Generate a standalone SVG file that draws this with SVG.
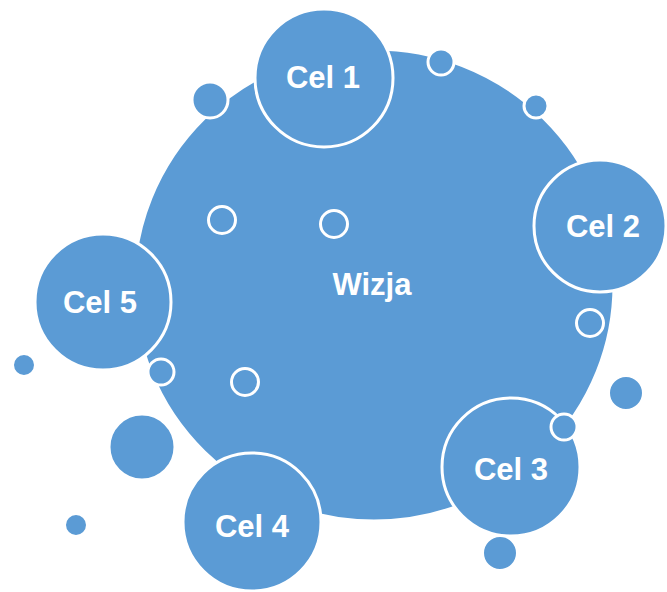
<svg xmlns="http://www.w3.org/2000/svg" width="667" height="592" viewBox="0 0 667 592">
<style>
.b{fill:#5B9BD5;stroke:#FFFFFF;stroke-width:3}
.s{fill:#5B9BD5;stroke:#FFFFFF;stroke-width:3}
.t{font-family:"Liberation Sans",Arial,sans-serif;font-weight:bold;font-size:31px;fill:#FFFFFF;text-anchor:middle}
</style>
<rect width="667" height="592" fill="#FFFFFF"/>
<g id="wizja">
<ellipse class="b" cx="374" cy="285" rx="240" ry="236"/>
<text class="t" x="372" y="295">Wizja</text>
</g>
<g id="bubbles">
<circle class="s" cx="222" cy="220" r="13.5"/>
<circle class="s" cx="334" cy="224" r="13.5"/>
<circle class="s" cx="245" cy="382" r="13.5"/>
<circle class="s" cx="590" cy="323" r="13.5"/>
<circle class="s" cx="441" cy="62" r="13"/>
<circle class="s" cx="536" cy="106" r="12"/>
<circle class="s" cx="210" cy="100" r="18"/>
<circle class="s" cx="24" cy="365" r="11.5"/>
<circle class="s" cx="142" cy="447" r="33"/>
<circle class="s" cx="76" cy="525" r="11.5"/>
<circle class="s" cx="626" cy="393" r="17.5"/>
</g>
<g id="cel1">
<circle class="b" cx="324" cy="78" r="69"/>
<text class="t" x="323" y="88">Cel 1</text>
</g>
<g id="cel2">
<circle class="b" cx="600" cy="226" r="66"/>
<text class="t" x="603" y="237">Cel 2</text>
</g>
<g id="cel3">
<circle class="b" cx="511" cy="467" r="69"/>
<text class="t" x="511" y="480">Cel 3</text>
</g>
<g id="cel4">
<circle class="b" cx="252" cy="522" r="69"/>
<text class="t" x="252" y="537">Cel 4</text>
</g>
<g id="cel5">
<circle class="b" cx="103" cy="302" r="68"/>
<text class="t" x="100" y="313">Cel 5</text>
</g>
<g id="bubbles-top">
<circle class="s" cx="161" cy="372" r="13"/>
<circle class="s" cx="564" cy="427" r="13"/>
<circle class="s" cx="500" cy="553" r="17.5"/>
</g>
<g id="connectors"/>
</svg>
